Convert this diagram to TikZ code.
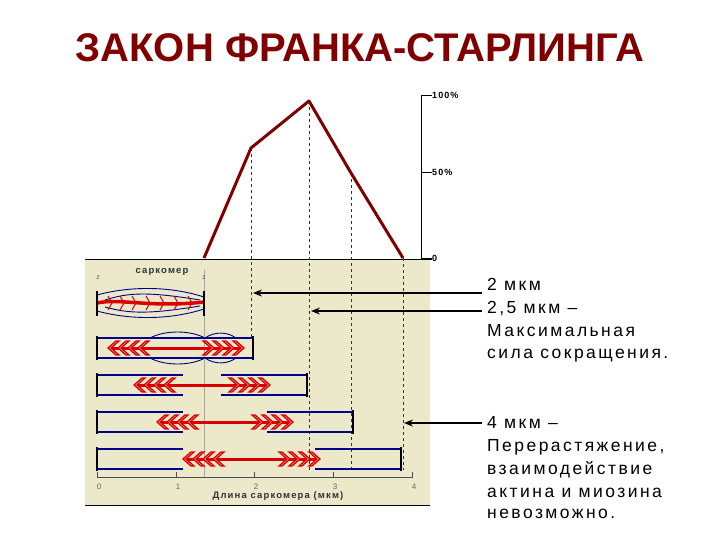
\documentclass[tikz,border=0pt]{standalone}
\usepackage{fontspec}
\setmainfont{Liberation Sans}
\newfontfamily\wide[LetterSpace=14]{Liberation Sans}
\newfontfamily\wideb[LetterSpace=12]{Liberation Sans}
\usetikzlibrary{arrows.meta}
\begin{document}
\begin{tikzpicture}[x=1pt,y=-1pt,
  zline/.style={line width=2.2pt,black},
  actin/.style={line width=1.1pt,blue!55!black},
  myo/.style={line width=3pt,red!85!black},
  chev/.style={line width=1.3pt,red!85!black,fill=red!20},
  guide/.style={dashed,line width=0.9pt,black!80},
  thin/.style={line width=0.4pt,black!35},
  lbl/.style={font=\wide\fontsize{17.5}{18}\selectfont,anchor=base west,inner sep=0},
  ax/.style={font=\wideb\bfseries\fontsize{9}{10}\selectfont,anchor=west,inner sep=1pt},
  arr/.style={line width=1.5pt,-{Stealth[length=9pt,width=7pt]}}]
\useasboundingbox (0,0) rectangle (720,540);
\fill[white] (0,0) rectangle (720,540);
% panel
\fill[orange!12!yellow!14!white!92!black] (85,259) rectangle (430,505);
\draw[line width=0.8pt] (85,505) -- (430,505);
\draw[line width=0.8pt] (85,259) -- (432,259);
% title
\node[font=\bfseries\fontsize{40}{42}\selectfont,text=red!50!black] (title) at (360,48) {ЗАКОН ФРАНКА-СТАРЛИНГА};
% graph axis
\draw[line width=0.8pt] (421,95) -- (421,259);
\foreach \yy/\t/\n in {95/100\%/ta,172/50\%/tb,258/0/tc}{
  \draw[line width=0.8pt] (421,\yy) -- (432,\yy);
  \node[ax] (\n) at (431,\yy) {\t};}
% guides
\draw[guide] (251,148) -- (251,340);
\draw[guide,line width=0.6pt] (309,101) -- (309,470);
\draw[guide] (351,173) -- (351,470);
\draw[guide] (403,258) -- (403,470);
\draw[thin] (204,270) -- (204,477);
% curve
\draw[line width=3pt,red!50!black,line join=round] (204,258) -- (251,148) -- (309,101) -- (351,173) -- (403,258);
% scale
\draw[line width=0.7pt,black!70] (97,477) -- (413,477);
\foreach \v [count=\i from 0] in {97,176,254,333,412}{
  \draw[line width=0.7pt,black!70] (\v,472) -- (\v,477);
  \node[font=\fontsize{8}{9}\selectfont,text=black!60] (s\i) at (\v+2,487) {\i};}
\node[font=\wideb\bfseries\fontsize{9.5}{10}\selectfont,text=black!80] (xl) at (278,496) {Длина саркомера (мкм)};
\node[font=\wideb\bfseries\fontsize{9.5}{10}\selectfont,text=black!80] (sl) at (162,272) {саркомер};
\node[font=\fontsize{7}{8}\selectfont,text=black!60] (z1) at (98,278) {z};
\node[font=\fontsize{7}{8}\selectfont,text=black!60] (z2) at (204,278) {z};
% row1
\draw[actin,line width=0.9pt] (97,295) .. controls (130,286) and (170,286) .. (204,297);
\draw[actin,line width=0.9pt] (97,311) .. controls (130,320) and (170,320) .. (204,309);
\draw[actin,line width=0.9pt] (105,300) .. controls (130,292) and (150,292) .. (200,300);
\draw[actin,line width=0.9pt] (105,307) .. controls (130,314) and (150,314) .. (200,306);
\draw[myo,line width=3.5pt] (97,303) .. controls (120,298) and (150,308) .. (204,302);
\foreach \xx in {108,120,132,146,160,174,188}{\draw[chev,fill=none,line width=1pt] (\xx,296) -- (\xx+4,303) -- (\xx,310);}
\draw[zline] (97,291) -- (97,316);
\draw[zline] (204,291) -- (204,316);
% generic rows
\foreach \yc/\zr/\ml/\mr in {348/253/108/244, 385/307/134/270, 422/353/157/293, 459/401/183/320}{
  \draw[actin] (97,\yc-10) -- (183,\yc-10);
  \draw[actin] (97,\yc+10) -- (183,\yc+10);
  \draw[actin] (\zr-86,\yc-10) -- (\zr,\yc-10);
  \draw[actin] (\zr-86,\yc+10) -- (\zr,\yc+10);
  \draw[myo] (\ml+2,\yc) -- (\mr-2,\yc);
  \foreach \k in {0,1,2,3}{
    \draw[chev] (\ml+\k*10+8,\yc-7) -- (\ml+\k*10,\yc) -- (\ml+\k*10+8,\yc+7) -- (\ml+\k*10+11,\yc+7) -- (\ml+\k*10+3,\yc) -- (\ml+\k*10+11,\yc-7) -- cycle;
    \draw[chev] (\mr-\k*10-8,\yc-7) -- (\mr-\k*10,\yc) -- (\mr-\k*10-8,\yc+7) -- (\mr-\k*10-11,\yc+7) -- (\mr-\k*10-3,\yc) -- (\mr-\k*10-11,\yc-7) -- cycle;}
  \draw[zline] (97,\yc-12) -- (97,\yc+12);
  \draw[zline] (\zr,\yc-12) -- (\zr,\yc+12);
}
% overlap bulges row2
\draw[actin,line width=0.9pt] (150,338) .. controls (165,330) and (190,330) .. (205,338) .. controls (215,331) and (228,332) .. (236,338);
\draw[actin,line width=0.9pt] (150,358) .. controls (165,366) and (190,366) .. (205,358) .. controls (215,365) and (228,364) .. (236,358);
% arrows
\coordinate (a1s) at (482,293); \coordinate (a1e) at (253,293);
\coordinate (a2s) at (482,311); \coordinate (a2e) at (311,311);
\coordinate (a3s) at (482,423); \coordinate (a3e) at (404,423);
\draw[arr] (a1s) -- (a1e);
\draw[arr] (a2s) -- (a2e);
\draw[arr] (a3s) -- (a3e);
% right texts
\node[lbl] (r1) at (487,290) {2 мкм};
\node[lbl] (r2) at (487,313) {2,5 мкм –};
\node[lbl] (r3) at (487,336) {Максимальная};
\node[lbl] (r4) at (487,358) {сила сокращения.};
\node[lbl] (r5) at (487,428) {4 мкм –};
\node[lbl] (r6) at (487,451) {Перерастяжение,};
\node[lbl] (r7) at (487,474) {взаимодействие};
\node[lbl] (r8) at (487,497) {актина и миозина};
\node[lbl] (r9) at (487,518) {невозможно.};
\end{tikzpicture}
\end{document}
